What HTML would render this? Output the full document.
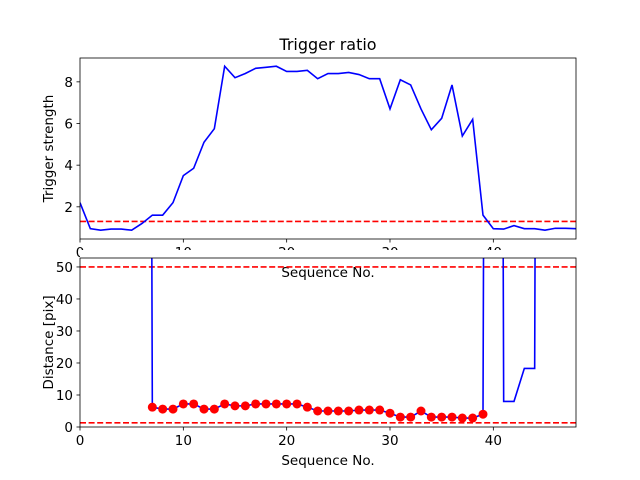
<!DOCTYPE html>
<html><head><meta charset="utf-8"><style>
html,body{margin:0;padding:0;background:#fff;}
svg{display:block;font-family:"DejaVu Sans","Liberation Sans",sans-serif;}
</style></head><body>
<svg id="fig" width="640" height="480" viewBox="0 0 640 480" xmlns="http://www.w3.org/2000/svg">
<defs>
<clipPath id="c1"><rect x="80" y="58" width="496" height="181"/></clipPath>
<clipPath id="c2"><rect x="80" y="258" width="496" height="169"/></clipPath>
</defs>
<rect width="640" height="480" fill="#fff"/>
<g id="top"></g>
<g id="bot"></g>
</svg>
<script>
const seqTop = Array.from({length:49},(_,i)=>i);
const triggerStrength = [2.2,0.95,0.88,0.93,0.93,0.88,1.2,1.6,1.6,2.2,3.5,3.85,5.1,5.75,8.75,8.2,8.4,8.65,8.7,8.75,8.5,8.5,8.55,8.15,8.4,8.4,8.45,8.35,8.15,8.15,6.7,8.1,7.85,6.7,5.7,6.25,7.85,5.4,6.2,1.6,0.95,0.93,1.1,0.95,0.95,0.88,0.97,0.97,0.95];
const triggerThreshold = 1.3;
const distanceLine = [null,null,null,null,null,null,1000,6.2,5.6,5.6,7.2,7.2,5.6,5.6,7.2,6.6,6.6,7.2,7.2,7.2,7.2,7.2,6.2,5.0,5.0,5.0,5.0,5.3,5.3,5.3,4.3,3.1,3.1,5.0,3.1,3.1,3.1,2.8,2.8,4.0,1000,8,8,18.3,18.3,1000,1000,1000,1000];
const markerSeq = [7,8,9,10,11,12,13,14,15,16,17,18,19,20,21,22,23,24,25,26,27,28,29,30,31,32,33,34,35,36,37,38,39];
const markerDist = [6.2,5.6,5.6,7.2,7.2,5.6,5.6,7.2,6.6,6.6,7.2,7.2,7.2,7.2,7.2,6.2,5.0,5.0,5.0,5.0,5.3,5.3,5.3,4.3,3.1,3.1,5.0,3.1,3.1,3.1,2.8,2.8,4.0];
const distUpper = 50, distLower = 1.3;
const xTicks = [0,10,20,30,40];
const yTicksTop = [2,4,6,8];
const yTicksBot = [0,10,20,30,40,50];

const NS="http://www.w3.org/2000/svg";
function mk(parent,tag,attrs,text){const e=document.createElementNS(NS,tag);for(const k in attrs)e.setAttribute(k,attrs[k]);if(text!==undefined)e.textContent=text;parent.appendChild(e);return e;}
const X=v=>80+v*(496/48);
const Yt=v=>239-(v-0.455)*(181/(9.145-0.455));
const Yb=v=>427-v*(169/52.8);

function axes(g,top,bottom,yt,Y,clip,ylabel,xlabel){
  for(const t of xTicks){
    const l=mk(g,'line',{x1:X(t),x2:X(t),y1:bottom,y2:bottom+3.5,stroke:'#000','stroke-width':0.8});
    
    
    const tx=mk(g,'text',{x:X(t),y:bottom+18,'font-size':13.5,'text-anchor':'middle',fill:'#000'},t);
    
    
  }
  for(const t of yt){
    const l=mk(g,'line',{x1:80,x2:76.5,y1:Y(t),y2:Y(t),stroke:'#000','stroke-width':0.8});
    
    
    const tx=mk(g,'text',{x:73,y:Y(t)+5,'font-size':13.5,'text-anchor':'end',fill:'#000'},t);
    
    
  }
  const yl=mk(g,'text',{x:0,y:0,'font-size':13.5,'text-anchor':'middle',transform:`translate(53,${(top+bottom)/2}) rotate(-90)`},ylabel);
  
  
  const xl=mk(g,'text',{x:328,y:bottom+38,'font-size':13.5,'text-anchor':'middle'},xlabel);
  
  
}
function pathFrom(xs,ys,Y){let d='',pen=false;xs.forEach((x,i)=>{const v=ys[i];if(v===null){pen=false;return;}d+=(pen?'L':'M')+X(x).toFixed(2)+','+Y(v).toFixed(2);pen=true;});return d;}

// Top subplot
const gt=document.getElementById('top');
const title=mk(gt,'text',{x:328,y:50,'font-size':16,'text-anchor':'middle'},'Trigger ratio');


const gtc=mk(gt,'g',{'clip-path':'url(#c1)'});
const th=mk(gtc,'line',{x1:80,x2:576,y1:Yt(triggerThreshold),y2:Yt(triggerThreshold),stroke:'#f00','stroke-width':1.6,'stroke-dasharray':'6,2.6'});


const tl=mk(gtc,'path',{d:pathFrom(seqTop,triggerStrength,Yt),fill:'none',stroke:'#00f','stroke-width':1.6});


axes(gt,58,239,yTicksTop,Yt,'c1','Trigger strength','Sequence No.');
const f1=mk(gt,'rect',{x:80,y:58,width:496,height:181,fill:'none',stroke:'#000','stroke-width':0.8});



// Bottom subplot
const gb=document.getElementById('bot');
mk(gb,'rect',{x:80,y:250,width:496,height:8,fill:'#fff'});
const gbc=mk(gb,'g',{'clip-path':'url(#c2)'});
for(const [v,n] of [[distUpper,'distance-upper-limit'],[distLower,'distance-lower-limit']]){
  const l=mk(gbc,'line',{x1:80,x2:576,y1:Yb(v),y2:Yb(v),stroke:'#f00','stroke-width':1.6,'stroke-dasharray':'6,2.6'});
  
  
}
const dl=mk(gbc,'path',{d:pathFrom(seqTop,distanceLine,Yb),fill:'none',stroke:'#00f','stroke-width':1.6});


markerSeq.forEach((s,i)=>{
  const c=mk(gbc,'circle',{cx:X(s),cy:Yb(markerDist[i]),r:4.5,fill:'#f00'});
  
  
});
axes(gb,258,427,yTicksBot,Yb,'c2','Distance [pix]','Sequence No.');
const f2=mk(gb,'rect',{x:80,y:258,width:496,height:169,fill:'none',stroke:'#000','stroke-width':0.8});


</script>
</body></html>
